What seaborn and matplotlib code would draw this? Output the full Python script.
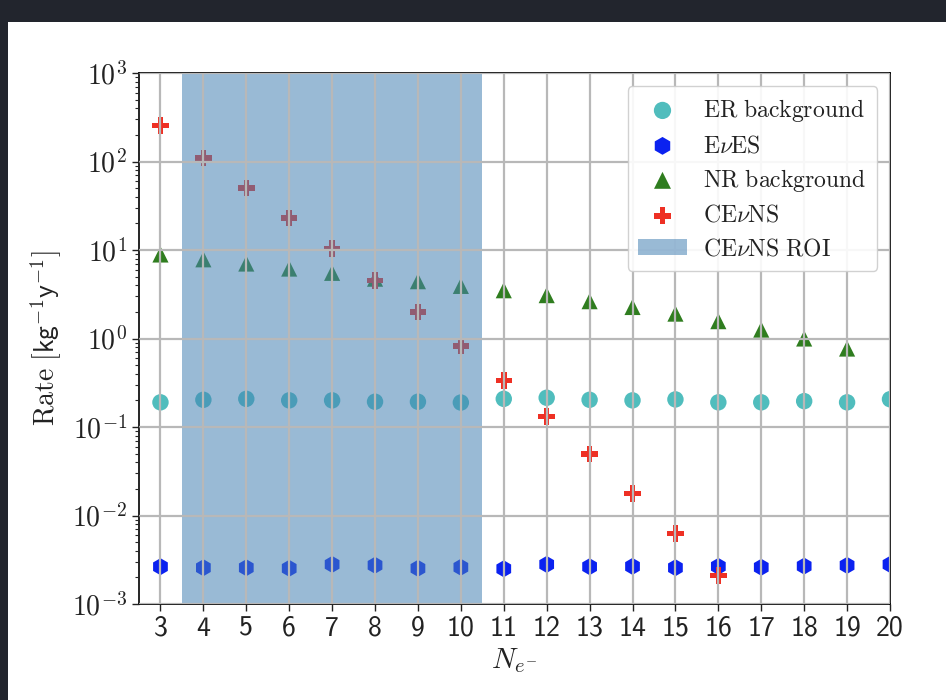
import matplotlib
matplotlib.use("Agg")
import matplotlib.pyplot as plt
from matplotlib.patches import Rectangle
from matplotlib.ticker import FixedLocator, FixedFormatter, LogLocator, NullFormatter
import seaborn as sns
import pandas as pd

# Number of ionisation electrons per bin
n_electrons = [3, 4, 5, 6, 7, 8, 9, 10, 11, 12, 13, 14, 15, 16, 17, 18, 19, 20]

# Rates in kg^-1 y^-1
er_background = [0.19, 0.203, 0.208, 0.200, 0.200, 0.193, 0.193, 0.189, 0.208,
                 0.214, 0.203, 0.200, 0.205, 0.190, 0.190, 0.196, 0.190, 0.206]
eves_rate = [0.00264, 0.00257, 0.00257, 0.00253, 0.00280, 0.00274, 0.00253, 0.00260, 0.00250,
             0.00280, 0.00264, 0.00266, 0.00257, 0.00266, 0.00260, 0.00268, 0.00273, 0.00280]
nr_background = [8.9, 7.85, 7.03, 6.17, 5.52, 4.74, 4.44, 3.93, 3.51,
                 3.09, 2.64, 2.27, 1.91, 1.57, 1.26, 1.00, 0.77]
cevns_electrons = [3, 4, 5, 6, 7, 8, 9, 10, 11, 12, 13, 14, 15, 16]
cevns_rate = [254, 110, 50.4, 23.0, 10.4, 4.54, 1.99, 0.826, 0.334,
              0.131, 0.0495, 0.0177, 0.00623, 0.00211]
roi_bounds = [3.5, 10.5]

y_ticks = [1e-3, 1e-2, 1e-1, 1e0, 1e1, 1e2, 1e3]
y_tick_labels = [r"$10^{-3}$", r"$10^{-2}$", r"$10^{-1}$", r"$10^{0}$",
                 r"$10^{1}$", r"$10^{2}$", r"$10^{3}$"]

sns.set_style("white")
plt.rcParams["mathtext.fontset"] = "cm"
plt.rcParams["font.family"] = ["DejaVu Sans"]

text_color = "#222222"

fig = plt.figure(figsize=(9.46, 7.0), dpi=100)
fig.patch.set_facecolor("#22252d")
fig.add_artist(Rectangle((8 / 946, 0), 1 - 8 / 946, 1 - 22 / 700,
                         transform=fig.transFigure, facecolor="white",
                         edgecolor="none", zorder=-10))

ax = fig.add_axes([139 / 946, 1 - 604 / 700, (890 - 139) / 946, (604 - 73) / 700])
ax.set_facecolor("white")

er_df = pd.DataFrame({"n": n_electrons, "rate": er_background})
eves_df = pd.DataFrame({"n": n_electrons, "rate": eves_rate})
nr_df = pd.DataFrame({"n": n_electrons[:len(nr_background)], "rate": nr_background})
cevns_df = pd.DataFrame({"n": cevns_electrons, "rate": cevns_rate})

sns.scatterplot(data=er_df, x="n", y="rate", marker="o", s=140, color="#50bdbd",
                edgecolor="none", linewidth=0, ax=ax, label=r"$\mathrm{ER\ background}$", zorder=1)
sns.scatterplot(data=eves_df, x="n", y="rate", marker="h", s=150, color="#0b22f0",
                edgecolor="none", linewidth=0, ax=ax, label=r"$\mathrm{E}\nu\mathrm{ES}$", zorder=1)
sns.scatterplot(data=nr_df, x="n", y="rate", marker="^", s=135, color="#2f7d1f",
                edgecolor="none", linewidth=0, ax=ax, label=r"$\mathrm{NR\ background}$", zorder=1)
sns.scatterplot(data=cevns_df, x="n", y="rate", marker="P", s=140, color="#ee3024",
                edgecolor="none", linewidth=0, ax=ax, label=r"$\mathrm{CE}\nu\mathrm{NS}$", zorder=1)

ax.axvspan(roi_bounds[0], roi_bounds[1], color="steelblue", alpha=0.55, linewidth=0,
           zorder=2, label=r"$\mathrm{CE}\nu\mathrm{NS\ ROI}$")

ax.set_yscale("log")
ax.set_ylim(1e-3, 1e3)
ax.set_xlim(2.5, 20)

ax.yaxis.set_major_locator(FixedLocator(y_ticks))
ax.yaxis.set_major_formatter(FixedFormatter(y_tick_labels))
ax.yaxis.set_minor_locator(LogLocator(base=10, subs=range(2, 10), numticks=20))
ax.yaxis.set_minor_formatter(NullFormatter())

ax.set_xticks(n_electrons)
ax.set_xticklabels([str(n) for n in n_electrons], fontfamily="cmss10", fontsize=20,
                   color=text_color)
for lbl in ax.get_yticklabels():
    lbl.set_fontsize(20)
    lbl.set_color(text_color)

ax.tick_params(axis="both", which="major", direction="out", length=5, width=1,
               left=True, bottom=True, right=False, top=False, colors="#222222")
ax.tick_params(axis="y", which="minor", direction="out", length=3, width=0.8, left=True)

ax.grid(True, which="major", color="#b8b8b8", linewidth=1.6)
ax.set_axisbelow(False)

for side in ["left", "right", "top", "bottom"]:
    ax.spines[side].set_visible(True)
    ax.spines[side].set_color("black")
    ax.spines[side].set_linewidth(1.2)

ax.set_xlabel(r"$N_{e^{-}}$", fontsize=21, color=text_color, labelpad=4)
ax.set_ylabel(r"$\mathrm{Rate}\ [\mathsf{kg}^{-1}\mathsf{y}^{-1}]$", fontsize=20,
              color=text_color, labelpad=6)

leg = ax.legend(loc="upper right", fontsize=17, frameon=True, fancybox=True,
                framealpha=0.9, edgecolor="#cccccc", borderpad=0.45, labelspacing=0.4,
                handlelength=2.05, handletextpad=0.7, markerscale=1.05, borderaxespad=0,
                bbox_to_anchor=(0.983, 0.9755))
for txt in leg.get_texts():
    txt.set_color(text_color)
leg.set_zorder(5)

fig.savefig("out.png", dpi=100, facecolor=fig.get_facecolor())
